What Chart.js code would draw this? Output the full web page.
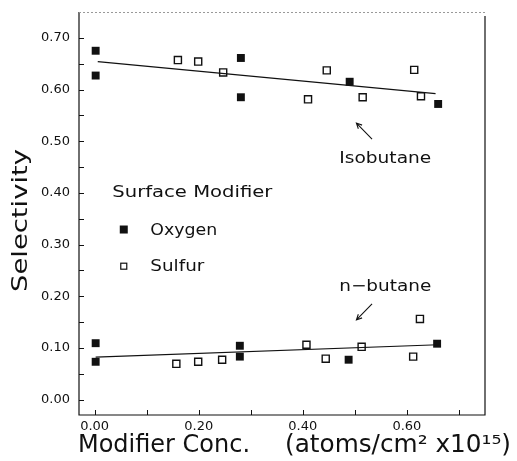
<!DOCTYPE html>
<html>
<head>
<meta charset="utf-8">
<script src="https://cdn.jsdelivr.net/npm/chart.js@4.4.0/dist/chart.umd.min.js"></script>
<style>
  html, body { margin: 0; padding: 0; background: #fff; }
  #wrap { width: 517px; height: 461px; }
</style>
</head>
<body>
<div id="wrap"><canvas id="chart" width="517" height="461"></canvas></div>
<script>
// isobutane selectivity
const isoOxygenX = [0.002, 0.002, 0.281, 0.281, 0.490, 0.660];
const isoOxygenY = [0.675, 0.627, 0.661, 0.585, 0.615, 0.572];
const isoSulfurX = [0.160, 0.199, 0.247, 0.410, 0.446, 0.515, 0.614, 0.627];
const isoSulfurY = [0.657, 0.654, 0.633, 0.581, 0.637, 0.585, 0.638, 0.587];
// n-butane selectivity
const nbOxygenX = [0.002, 0.002, 0.279, 0.279, 0.488, 0.658];
const nbOxygenY = [0.109, 0.073, 0.104, 0.083, 0.077, 0.108];
const nbSulfurX = [0.157, 0.199, 0.245, 0.407, 0.444, 0.513, 0.612, 0.625];
const nbSulfurY = [0.069, 0.073, 0.077, 0.106, 0.079, 0.102, 0.083, 0.156];
// fitted lines
const isoFitX = [0.006, 0.655];
const isoFitY = [0.654, 0.592];
const nbFitX = [0.002, 0.660];
const nbFitY = [0.082, 0.106];
// ticks
const xTicks = [0.0, 0.2, 0.4, 0.6];
const xMinor = [0.1, 0.3, 0.5, 0.7];
const yTicks = [0.0, 0.1, 0.2, 0.3, 0.4, 0.5, 0.6, 0.7];
const yMinor = [0.05, 0.15, 0.25, 0.35, 0.45, 0.55, 0.65];

const ink = '#111';
const fontFamily = '"DejaVu Sans", sans-serif';

function toPts(xs, ys) {
    return xs.map(function (x, i) { return { x: x, y: ys[i] }; });
}

// draw text squeezed/stretched to a given width
function fitText(ctx, text, x, y, w) {
    const m = ctx.measureText(text).width;
    ctx.save();
    ctx.translate(x, y);
    ctx.scale(w / m, 1);
    ctx.fillText(text, 0, 0);
    ctx.restore();
}

function arrow(ctx, x1, y1, x2, y2) {
    const ang = Math.atan2(y2 - y1, x2 - x1);
    const h = 6;
    ctx.beginPath();
    ctx.moveTo(x1, y1);
    ctx.lineTo(x2, y2);
    ctx.moveTo(x2 - h * Math.cos(ang - 0.45), y2 - h * Math.sin(ang - 0.45));
    ctx.lineTo(x2, y2);
    ctx.lineTo(x2 - h * Math.cos(ang + 0.45), y2 - h * Math.sin(ang + 0.45));
    ctx.stroke();
}

// frame, inward ticks, notes and legend
const decorations = {
    id: 'decorations',
    afterDraw(chart) {
        const ctx = chart.ctx, a = chart.chartArea;
        const sx = chart.scales.x, sy = chart.scales.y;
        ctx.save();
        // frame
        ctx.strokeStyle = ink;
        ctx.lineWidth = 1.2;
        ctx.beginPath();
        ctx.moveTo(a.left, a.top);
        ctx.lineTo(a.left, a.bottom);
        ctx.lineTo(a.right, a.bottom);
        ctx.lineTo(a.right, a.top + 4);
        ctx.stroke();
        ctx.strokeStyle = '#999';
        ctx.lineWidth = 1;
        ctx.setLineDash([2, 2]);
        ctx.beginPath();
        ctx.moveTo(a.left, a.top + 0.5);
        ctx.lineTo(a.right, a.top + 0.5);
        ctx.stroke();
        ctx.setLineDash([]);

        // inward ticks
        ctx.strokeStyle = ink;
        ctx.lineWidth = 1;
        ctx.beginPath();
        yTicks.concat(yMinor).forEach(function (v) {
            const py = Math.round(sy.getPixelForValue(v)) + 0.5;
            ctx.moveTo(a.left, py);
            ctx.lineTo(a.left + 5, py);
        });
        xTicks.concat(xMinor).forEach(function (v) {
            const px = Math.round(sx.getPixelForValue(v)) + 0.5;
            ctx.moveTo(px, a.bottom);
            ctx.lineTo(px, a.bottom - 5);
        });
        ctx.stroke();

        ctx.fillStyle = ink;
        ctx.textBaseline = 'alphabetic';
        ctx.textAlign = 'left';

        // curve notes
        ctx.font = '16px ' + fontFamily;
        fitText(ctx, 'Isobutane', sx.getPixelForValue(0.470), sy.getPixelForValue(0.458), 92);
        fitText(ctx, 'n\u2212butane', sx.getPixelForValue(0.470), sy.getPixelForValue(0.210), 92);
        ctx.lineWidth = 1.1;
        arrow(ctx, sx.getPixelForValue(0.533), sy.getPixelForValue(0.504),
                   sx.getPixelForValue(0.503), sy.getPixelForValue(0.535));
        arrow(ctx, sx.getPixelForValue(0.533), sy.getPixelForValue(0.185),
                   sx.getPixelForValue(0.503), sy.getPixelForValue(0.154));

        // legend
        fitText(ctx, 'Surface Modifier', sx.getPixelForValue(0.034), sy.getPixelForValue(0.392), 160);
        fitText(ctx, 'Oxygen', sx.getPixelForValue(0.107), sy.getPixelForValue(0.319), 67);
        fitText(ctx, 'Sulfur', sx.getPixelForValue(0.107), sy.getPixelForValue(0.248), 54);
        const lx = sx.getPixelForValue(0.056);
        const ly1 = sy.getPixelForValue(0.329), ly2 = sy.getPixelForValue(0.258);
        ctx.fillRect(lx - 4, ly1 - 4, 8, 8);
        ctx.lineWidth = 1.2;
        ctx.strokeRect(lx - 3, ly2 - 3, 6, 6);

        // axis titles
        ctx.font = '24px ' + fontFamily;
        fitText(ctx, 'Modifier Conc.', 78, 452, 172);
        fitText(ctx, '(atoms/cm\u00b2 x10\u00b9\u2075)', 285, 452, 226);
        ctx.font = '21px ' + fontFamily;
        ctx.save();
        ctx.translate(27, 292);
        ctx.rotate(-Math.PI / 2);
        fitText(ctx, 'Selectivity', 0, 0, 143);
        ctx.restore();
        ctx.restore();
    }
};

const oxygenStyle = {
    showLine: false,
    pointStyle: 'rect',
    pointRadius: 5.6,
    pointBackgroundColor: ink,
    pointBorderColor: ink,
    pointBorderWidth: 0
};
const sulfurStyle = {
    showLine: false,
    pointStyle: 'rect',
    pointRadius: 5,
    pointBackgroundColor: '#fff',
    pointBorderColor: ink,
    pointBorderWidth: 1.4
};
const fitStyle = {
    showLine: true,
    borderColor: ink,
    borderWidth: 1.2,
    pointRadius: 0,
    fill: false
};

new Chart(document.getElementById('chart'), {
    type: 'scatter',
    data: {
        datasets: [
            Object.assign({ label: 'Isobutane fit', data: toPts(isoFitX, isoFitY) }, fitStyle),
            Object.assign({ label: 'n-butane fit', data: toPts(nbFitX, nbFitY) }, fitStyle),
            Object.assign({ label: 'Oxygen', data: toPts(isoOxygenX, isoOxygenY).concat(toPts(nbOxygenX, nbOxygenY)) }, oxygenStyle),
            Object.assign({ label: 'Sulfur', data: toPts(isoSulfurX, isoSulfurY).concat(toPts(nbSulfurX, nbSulfurY)) }, sulfurStyle)
        ]
    },
    options: {
        responsive: false,
        animation: false,
        layout: { padding: { top: 12, right: 32, left: 0, bottom: 0 } },
        plugins: {
            legend: { display: false },
            tooltip: { enabled: false }
        },
        scales: {
            x: {
                type: 'linear',
                min: -0.03,
                max: 0.75,
                afterFit: function (scale) {
                    scale.height = 46;
                    scale.paddingLeft = 0;
                    scale.paddingRight = 0;
                },
                afterBuildTicks: function (scale) {
                    scale.ticks = xTicks.map(function (v) { return { value: v }; });
                },
                grid: { display: false, drawTicks: false },
                border: { display: false },
                ticks: {
                    padding: 4,
                    color: ink,
                    maxRotation: 0,
                    font: { family: fontFamily, size: 13 },
                    callback: function (v) { return Number(v).toFixed(2); }
                }
            },
            y: {
                type: 'linear',
                min: -0.03,
                max: 0.75,
                afterFit: function (scale) {
                    scale.width = 79;
                    scale.paddingTop = 0;
                    scale.paddingBottom = 0;
                },
                afterBuildTicks: function (scale) {
                    scale.ticks = yTicks.map(function (v) { return { value: v }; });
                },
                grid: { display: false, drawTicks: false },
                border: { display: false },
                title: { display: false },
                ticks: {
                    padding: 9,
                    color: ink,
                    font: { family: fontFamily, size: 13 },
                    callback: function (v) { return Number(v).toFixed(2); }
                }
            }
        }
    },
    plugins: [decorations]
});
</script>
</body>
</html>
